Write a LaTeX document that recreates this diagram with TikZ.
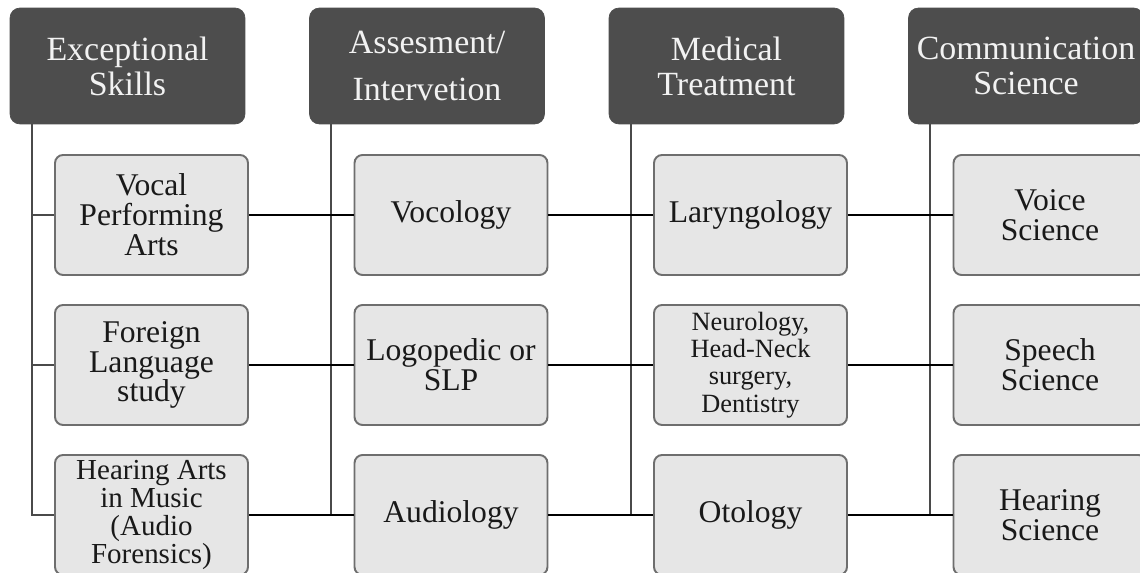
\documentclass[tikz,border=0pt]{standalone}
\usepackage{fontspec}
\setmainfont{Liberation Serif}
\definecolor{headgray}{HTML}{4D4D4D}
\definecolor{boxgray}{HTML}{E6E6E6}
\definecolor{edgegray}{HTML}{6E6E6E}
\definecolor{stemgray}{HTML}{4A4A4A}
\begin{document}
\begin{tikzpicture}
    [%%%%%%%%%%%%%%%%%%%%%%%%%%%%%%
        x=0.02cm, y=-0.02cm,
        head/.style={rectangle,rounded corners=0.2cm,fill=headgray,draw=headgray,
            text=white!95!black,minimum width=4.7cm,minimum height=2.32cm,align=center,
            font=\fontsize{19.3}{20}\selectfont},
        item/.style={rectangle,rounded corners=0.16cm,fill=boxgray,draw=edgegray,line width=1.1pt,
            text=black!90,minimum width=3.86cm,minimum height=2.4cm,align=center,
            inner sep=1pt,font=\fontsize{18}{17}\selectfont},
        stem/.style={draw=stemgray,line width=1.1pt},
        link/.style={draw=black,line width=1.6pt},
    ]%%%%%%%%%%%%%%%%%%%%%%%%%%%%%%
\useasboundingbox (0,0) rectangle (1140,573);
\fill[white] (0,0) rectangle (1140,573);

% column heads
\node[head] (hSkill) at (127.5,66) {Exceptional\\Skills};
\node[head] (hAssess) at (427,66) {Assesment/\\[7pt]Intervetion};
\node[head] (hMed) at (726.5,66) {Medical\\Treatment};
\node[head] (hComm) at (1026,66) {Communication\\Science};

\coordinate (s1) at ([xshift=0.44cm]hSkill.south west);
\coordinate (s2) at ([xshift=0.44cm]hAssess.south west);
\coordinate (s3) at ([xshift=0.44cm]hMed.south west);
\coordinate (s4) at ([xshift=0.44cm]hComm.south west);

% boxes
\node[item] (vocal) at (151.5,215) {Vocal\\Performing\\Arts};
\node[item] (foreign) at (151.5,365) {Foreign\\Language\\study};
\node[item, font=\fontsize{16.5}{16}\selectfont] (hearArts) at (151.5,515) {Hearing Arts\\in Music\\(Audio\\Forensics)};

\node[item] (vocology) at (451,215) {Vocology};
\node[item] (logo) at (451,365) {Logopedic or\\SLP};
\node[item] (audio) at (451,515) {Audiology};

\node[item] (laryn) at (750.5,215) {Laryngology};
\node[item, font=\fontsize{15}{15.5}\selectfont] (neuro) at (750.5,365) {Neurology,\\Head-Neck\\surgery,\\Dentistry};
\node[item] (oto) at (750.5,515) {Otology};

\node[item] (voice) at (1050,215) {Voice\\Science};
\node[item] (speech) at (1050,365) {Speech\\Science};
\node[item] (hearSci) at (1050,515) {Hearing\\Science};

% stems
\draw[stem] (s1) |- (hearArts.west);
\draw[stem] (vocal.west) -- (vocal.west -| s1);
\draw[stem] (foreign.west) -- (foreign.west -| s1);
\draw[stem] (s2) |- (audio.west);
\draw[stem] (vocology.west) -- (vocology.west -| s2);
\draw[stem] (logo.west) -- (logo.west -| s2);
\draw[stem] (s3) |- (oto.west);
\draw[stem] (laryn.west) -- (laryn.west -| s3);
\draw[stem] (neuro.west) -- (neuro.west -| s3);
\draw[stem] (s4) |- (hearSci.west);
\draw[stem] (voice.west) -- (voice.west -| s4);
\draw[stem] (speech.west) -- (speech.west -| s4);

% links
\draw[link] (vocal.east) -- (vocology.west);
\draw[link] (vocology.east) -- (laryn.west);
\draw[link] (laryn.east) -- (voice.west);
\draw[link] (foreign.east) -- (logo.west);
\draw[link] (logo.east) -- (neuro.west);
\draw[link] (neuro.east) -- (speech.west);
\draw[link] (hearArts.east) -- (audio.west);
\draw[link] (audio.east) -- (oto.west);
\draw[link] (oto.east) -- (hearSci.west);
\end{tikzpicture}
\end{document}
